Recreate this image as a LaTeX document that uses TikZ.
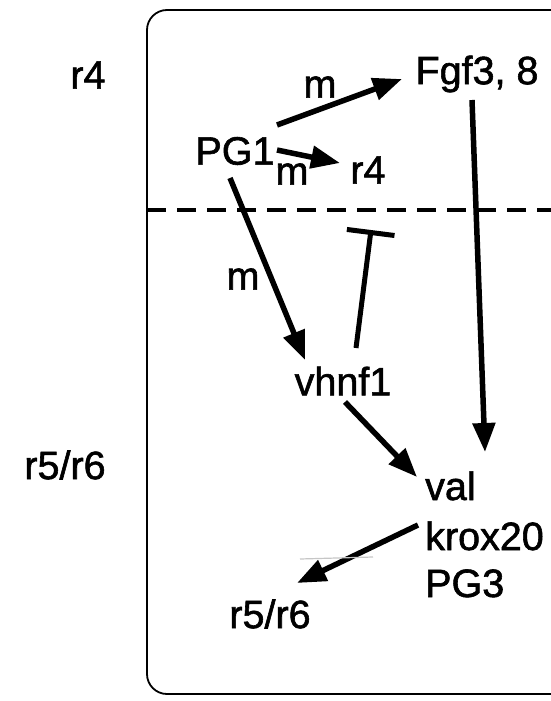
\documentclass[tikz,border=0pt]{standalone}
\usepackage{fontspec}
\setmainfont{Liberation Sans}[FakeBold=1.5]
\usetikzlibrary{arrows.meta}
\begin{document}
\begin{tikzpicture}[x=1pt,y=-1pt,
  lbl/.style={inner sep=0pt, font=\fontsize{39.5}{46}\selectfont},
  arr/.style={line width=5.5pt, -{Triangle[length=29pt,width=22pt]}},
  inhib/.style={line width=5pt, -{Bar[width=48pt,line width=5pt]}},
  frame/.style={line width=1.8pt, rounded corners=20pt},
  border/.style={line width=4pt, dash pattern=on 19pt off 11pt}]
\useasboundingbox (0,0) rectangle (551,701);
\begin{scope}
  \clip (0,0) rectangle (551,701);
  \draw[frame] (147,10) rectangle (620,694);
\end{scope}
% rhombomere boundary
\coordinate (bl) at (147,210);
\coordinate (br) at (551,210);
\draw[border] (bl) -- (br);

% region labels
\node[lbl] (r4side) at (88,75) {r4};
\node[lbl] (r56side) at (65,465) {r5/r6};

% genes
\node[lbl] (PG1) at (235,151) {PG1};
\node[lbl] (Fgf) at (477,74) {Fgf3, 8};
\node[lbl] (r4) at (368,170) {r4};
\node[lbl] (vhnf) at (343,381) {vhnf1};
\node[lbl, anchor=base west] (val) at (425,500) {val};
\node[lbl, anchor=base west] (krox) at (425,550) {krox20};
\node[lbl, anchor=base west] (PG3) at (425,597) {PG3};
\node[lbl] (r56) at (270,614) {r5/r6};

% maternal labels
\node[lbl] (m1) at (320,87) {m};
\node[lbl] (m2) at (292,174) {m};
\node[lbl] (m3) at (243,279) {m};

% regulatory connections
\draw[arr] ([shift={(42,-26)}]PG1.center) -- ([shift={(-75,5)}]Fgf.center);
\draw[arr] ([shift={(42,-1)}]PG1.center) -- ([shift={(-28,-7)}]r4.center);
\draw[arr] ([shift={(-5,27)}]PG1.center) -- ([shift={(-38,-21)}]vhnf.center);
\draw[arr] ([shift={(-5,26)}]Fgf.center) -- ([shift={(60,-48)}]val.base west);
\draw[arr] ([shift={(2,21)}]vhnf.center) -- ([shift={(-8,-23)}]val.base west);
\draw[arr] ([shift={(-7,-25)}]krox.base west) -- ([shift={(27,-31)}]r56.center);
\coordinate (inh) at (371,230);
\draw[inhib] ([shift={(13,-33)}]vhnf.center) -- (inh);

% faint stray stroke
\coordinate (s1) at (300,559);
\coordinate (s2) at (373,557);
\draw[gray!45, line width=1.2pt] (s1) -- (s2);
\end{tikzpicture}
\end{document}
